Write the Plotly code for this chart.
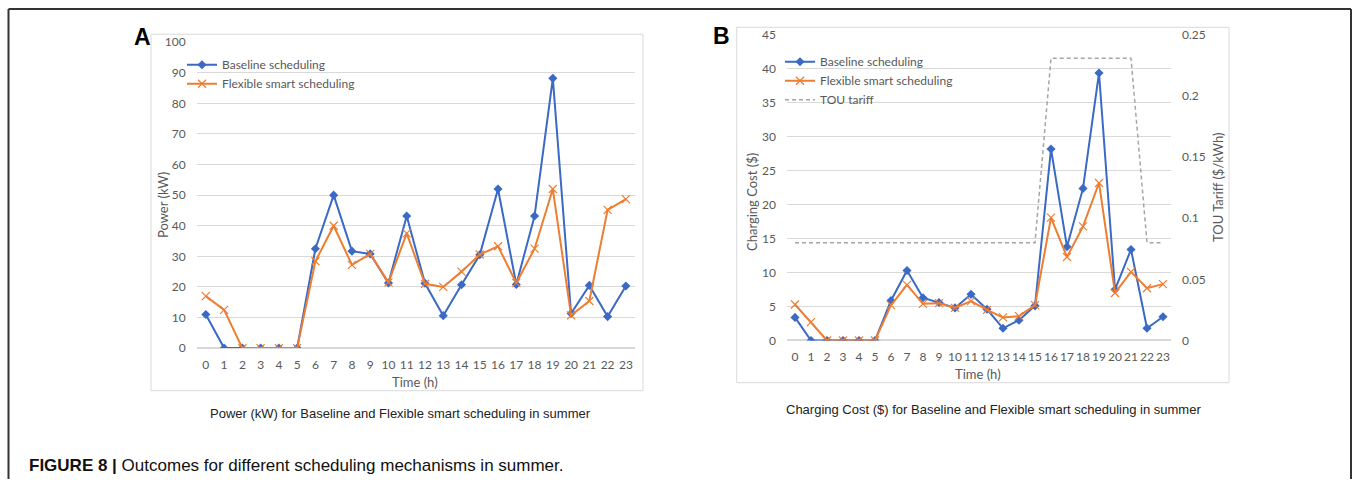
import plotly.graph_objects as go

hours = list(range(24))
hour_labels = [str(h) for h in hours]

power_baseline = [11, 0, 0, 0, 0, 0, 32.5, 50, 31.7, 30.8, 21.3, 43.2, 21.2, 10.6,
                  20.7, 30.5, 52, 20.8, 43.2, 88.2, 11.3, 20.5, 10.3, 20.3]
power_flexible = [17, 12.5, 0, 0, 0, 0, 28.4, 40, 27.2, 30.8, 21.5, 37.5, 21, 20,
                  25, 30.6, 33.3, 21.3, 32.5, 52, 10.7, 15.4, 45.2, 48.7]

cost_baseline = [3.4, 0, 0, 0, 0, 0, 5.9, 10.3, 6.3, 5.6, 4.8, 6.8, 4.6, 1.8,
                 3.0, 5.1, 28.2, 13.8, 22.4, 39.4, 7.5, 13.4, 1.8, 3.5]
cost_flexible = [5.3, 2.7, 0, 0, 0, 0, 5.2, 8.2, 5.4, 5.5, 4.8, 5.8, 4.5, 3.4,
                 3.6, 5.2, 18.1, 12.3, 16.8, 23.2, 7.0, 10.1, 7.7, 8.3]
tou_tariff = [0.08] * 16 + [0.231] * 6 + [0.08] * 2

W, H = 1356, 486
# page placement compensation (measured): screen_y = 0.9706 * fig_y + 7.7
SY, OY = 0.9706, 7.7

def px(x):
    return x / W

def py(y):
    return 1 - ((y - OY) / SY) / H

BLUE = "#3A69C6"
ORANGE = "#ED7D31"
GRAY = "#A5A5A5"
GRID = "#D9D9D9"
TXT = "#595959"
FONT = "Lato, Open Sans, sans-serif"

fig = go.Figure()

blue_marker = dict(symbol="diamond", size=7, color=BLUE)
orange_marker = dict(symbol="x-thin", size=8, color=ORANGE, line=dict(width=1.2, color=ORANGE))

fig.add_trace(go.Scatter(x=hours, y=power_baseline, mode="lines+markers", name="Baseline scheduling",
                         line=dict(color=BLUE, width=2), marker=blue_marker,
                         xaxis="x", yaxis="y", legend="legend"))
fig.add_trace(go.Scatter(x=hours, y=power_flexible, mode="lines+markers", name="Flexible smart scheduling",
                         line=dict(color=ORANGE, width=2), marker=orange_marker,
                         xaxis="x", yaxis="y", legend="legend"))

fig.add_trace(go.Scatter(x=hours, y=cost_baseline, mode="lines+markers", name="Baseline scheduling",
                         line=dict(color=BLUE, width=2), marker=blue_marker,
                         xaxis="x2", yaxis="y2", legend="legend2"))
fig.add_trace(go.Scatter(x=hours, y=cost_flexible, mode="lines+markers", name="Flexible smart scheduling",
                         line=dict(color=ORANGE, width=2), marker=orange_marker,
                         xaxis="x2", yaxis="y2", legend="legend2"))
fig.add_trace(go.Scatter(x=hours, y=tou_tariff, mode="lines", name="TOU tariff",
                         line=dict(color=GRAY, width=1.5, dash="4px,3px"),
                         xaxis="x2", yaxis="y3", legend="legend2"))

tickfont = dict(family=FONT, size=12, color=TXT)
common_x = dict(tickmode="array", tickvals=hours, ticktext=hour_labels, range=[-0.5, 23.5],
                showgrid=False, zeroline=False, showline=False, ticks="", tickfont=tickfont,
                ticklabelstandoff=8, fixedrange=True)

fig.update_layout(
    width=W, height=H,
    margin=dict(l=0, r=0, t=0, b=0),
    paper_bgcolor="white", plot_bgcolor="white",
    font=dict(family=FONT, color=TXT),
    xaxis=dict(domain=[px(196.7), px(635)], anchor="y", **common_x),
    yaxis=dict(domain=[py(348.3), py(42)], anchor="x", range=[0, 100], dtick=10,
               showgrid=True, gridcolor=GRID, gridwidth=1, zeroline=True, zerolinecolor=GRID,
               showline=False, ticks="", tickfont=tickfont, ticklabelstandoff=10),
    xaxis2=dict(domain=[px(787), px(1171)], anchor="y2", **common_x),
    yaxis2=dict(domain=[py(340.7), py(34.7)], anchor="x2", range=[0, 45], dtick=5,
                showgrid=True, gridcolor=GRID, gridwidth=1, zeroline=True, zerolinecolor=GRID,
                showline=False, ticks="", tickfont=tickfont, ticklabelstandoff=10),
    yaxis3=dict(domain=[py(340.7), py(34.7)], anchor="x2", overlaying="y2", side="right",
                range=[0, 0.25], tickvals=[0, 0.05, 0.1, 0.15, 0.2, 0.25],
                ticktext=["0", "0.05", "0.1", "0.15", "0.2", "0.25"],
                showgrid=False, zeroline=False, showline=False, ticks="", tickfont=tickfont,
                ticklabelstandoff=10),
    legend=dict(x=px(182), y=py(50), xanchor="left", yanchor="top", bgcolor="rgba(0,0,0,0)",
                font=dict(family=FONT, size=12, color=TXT), itemwidth=30, tracegroupgap=0),
    legend2=dict(x=px(780), y=py(47), xanchor="left", yanchor="top", bgcolor="rgba(0,0,0,0)",
                 font=dict(family=FONT, size=12, color=TXT), itemwidth=30, tracegroupgap=0),
    showlegend=True,
)

shapes = [
    # chart frames
    dict(type="rect", xref="paper", yref="paper", x0=px(151), x1=px(643), y0=py(391), y1=py(34),
         line=dict(color=GRID, width=1), layer="below"),
    dict(type="rect", xref="paper", yref="paper", x0=px(736.7), x1=px(1229), y0=py(383), y1=py(27),
         line=dict(color=GRID, width=1), layer="below"),
    # outer figure frame
    dict(type="line", xref="paper", yref="paper", x0=px(8.5), x1=px(1351), y0=py(8.8), y1=py(8.8),
         line=dict(color="#333333", width=2)),
    dict(type="line", xref="paper", yref="paper", x0=px(8.5), x1=px(8.5), y0=py(8.8), y1=0,
         line=dict(color="#333333", width=2)),
    dict(type="line", xref="paper", yref="paper", x0=px(1351), x1=px(1351), y0=py(8.8), y1=0,
         line=dict(color="#333333", width=2)),
]
fig.update_layout(shapes=shapes)

def ann(text, x, y, size=13, color=TXT, family=FONT, angle=0, xanchor="center"):
    return dict(text=text, x=px(x), y=py(y), xref="paper", yref="paper", showarrow=False,
                xanchor=xanchor, yanchor="middle", textangle=angle,
                font=dict(size=size, color=color, family=family))

annotations = [
    ann("<b>A</b>", 142, 37, size=23, color="#000000", family="Liberation Sans, Arial, sans-serif"),
    ann("<b>B</b>", 721, 36, size=23, color="#000000", family="Liberation Sans, Arial, sans-serif"),
    ann("Power (kW)", 163, 205, angle=-90),
    ann("Time (h)", 415, 382),
    ann("Charging Cost ($)", 752, 202, angle=-90),
    ann("Time (h)", 978, 374),
    ann("TOU Tariff ($/kWh)", 1218, 187, angle=-90),
    ann("Power (kW) for Baseline and Flexible smart scheduling in summer", 400, 414, size=13,
        color="#222222", family="Liberation Sans, Arial, sans-serif"),
    ann("Charging Cost ($) for Baseline and Flexible smart scheduling in summer", 993, 410, size=13,
        color="#222222", family="Liberation Sans, Arial, sans-serif"),
    ann("<b>FIGURE 8 |</b> Outcomes for different scheduling mechanisms in summer.", 27, 466, size=17,
        color="#111111", family="Liberation Sans, Arial, sans-serif", xanchor="left"),
]
fig.update_layout(annotations=annotations)

fig.write_html("out.html")
